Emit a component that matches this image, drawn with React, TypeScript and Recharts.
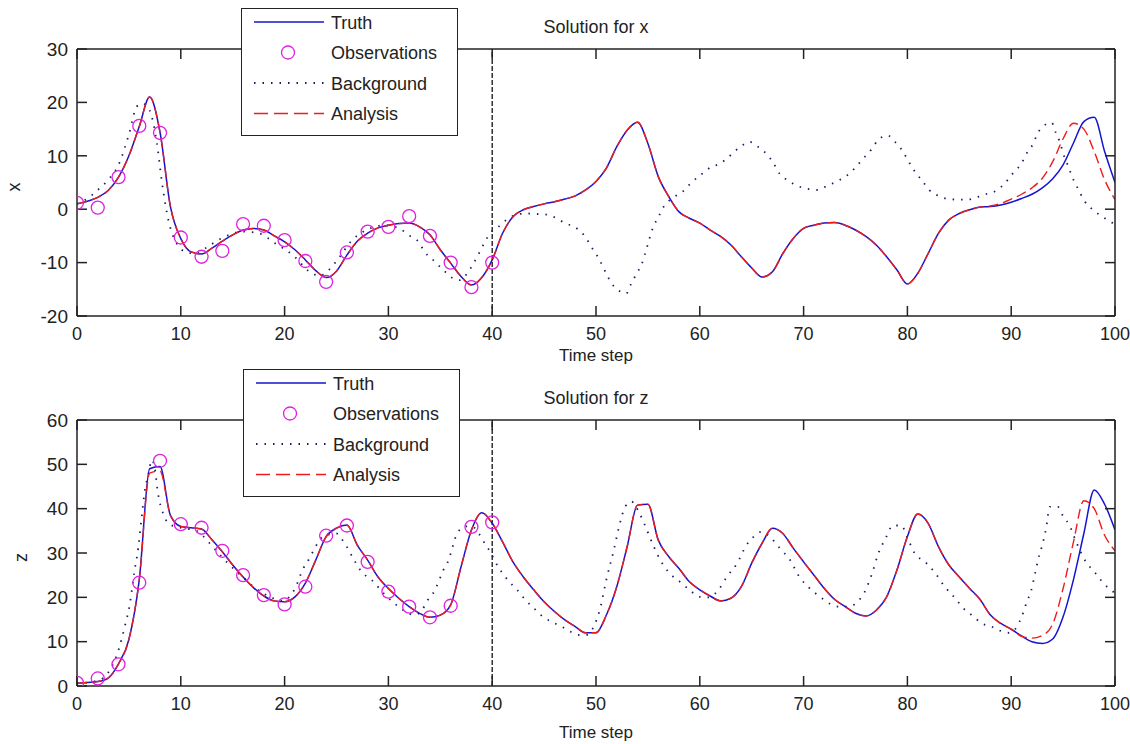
import { LineChart, Line, XAxis, YAxis, ReferenceLine, Legend } from "recharts"

const FONT = '"Liberation Sans", Arial, Helvetica, sans-serif'
const INK = "#222"

// axis ticks
const timeTicks = [0, 10, 20, 30, 40, 50, 60, 70, 80, 90, 100]
const xTicks = [-20, -10, 0, 10, 20, 30]
const zTicks = [0, 10, 20, 30, 40, 50, 60]

// observations every 2nd step, assimilation window ends at 40
const obsTimes = [0, 2, 4, 6, 8, 10, 12, 14, 16, 18, 20, 22, 24, 26, 28, 30, 32, 34, 36, 38, 40]
const obsX = [1.2, 0.3, 6.0, 15.6, 14.3, -5.3, -8.9, -7.8, -2.8, -3.1, -5.8, -9.7, -13.6, -8.1, -4.2, -3.3, -1.3, -5.0, -10.0, -14.6, -10.0]
const obsZ = [0.7, 1.7, 4.9, 23.3, 50.8, 36.5, 35.7, 30.5, 25.0, 20.5, 18.4, 22.4, 33.9, 36.2, 28.0, 21.3, 17.9, 15.5, 18.1, 35.9, 36.9]
const windowEnd = 40

// truth / analysis, one value per time step 0..100
const truthX = [
  1.0, 1.5, 2.2, 3.5, 6.0, 10.0, 15.5, 21.0, 14.4, 0.5,
  -5.5, -8.0, -8.4, -7.3, -6.0, -4.8, -3.9, -3.6, -3.9, -5.0,
  -6.1, -7.6, -9.5, -11.5, -12.8, -11.6, -8.6, -6.0, -4.5, -3.5,
  -3.0, -2.7, -2.6, -3.3, -4.8, -7.6, -10.1, -12.6, -14.2, -12.8,
  -9.5, -4.5, -1.4, -0.1, 0.5, 1.0, 1.4, 1.9, 2.5, 3.6,
  5.2, 7.7, 11.7, 14.8, 16.3, 12.3, 6.1, 2.4, -0.5, -1.7,
  -2.6, -3.9, -5.1, -6.7, -8.9, -11.0, -12.7, -11.7, -8.3, -5.5,
  -3.6, -3.0, -2.6, -2.5, -3.0, -3.9, -5.1, -6.7, -8.9, -11.4,
  -14.0, -12.0, -8.3, -4.5, -2.0, -0.8, -0.1, 0.4, 0.5, 0.8,
  1.3, 2.0, 2.8, 4.0, 5.7, 8.3, 12.4, 16.4, 17.2, 10.8,
  5.0,
]
const analysisX = [
  1.0, 1.5, 2.2, 3.5, 6.0, 10.0, 15.5, 21.0, 14.4, 0.5,
  -5.5, -8.0, -8.4, -7.3, -6.0, -4.8, -3.9, -3.6, -3.9, -5.0,
  -6.1, -7.6, -9.5, -11.5, -12.8, -11.6, -8.6, -6.0, -4.5, -3.5,
  -3.0, -2.7, -2.6, -3.3, -4.8, -7.6, -10.1, -12.6, -14.2, -12.8,
  -9.5, -4.5, -1.4, -0.1, 0.5, 1.0, 1.4, 1.9, 2.5, 3.6,
  5.2, 7.7, 11.7, 14.8, 16.3, 12.3, 6.1, 2.4, -0.5, -1.7,
  -2.6, -3.9, -5.1, -6.7, -8.9, -11.0, -12.7, -11.7, -8.3, -5.5,
  -3.6, -3.0, -2.6, -2.5, -3.0, -3.9, -5.1, -6.7, -8.9, -11.4,
  -14.0, -12.0, -8.3, -4.5, -2.0, -0.8, -0.1, 0.4, 0.6, 1.1,
  1.9, 2.8, 4.0, 5.8, 8.9, 13.2, 16.1, 15.0, 10.8, 5.5,
  1.8,
]
const truthZ = [
  0.6, 0.8, 1.0, 1.8, 5.0, 10.5, 24.0, 49.0, 49.5, 38.5,
  36.0, 35.7, 35.4, 33.0, 30.3, 27.3, 24.6, 22.2, 20.3, 19.2,
  19.0, 20.1, 23.2, 28.4, 33.7, 35.6, 36.3, 31.8, 28.4, 24.6,
  22.0, 19.8, 17.9, 16.4, 15.5, 16.0, 18.3, 26.9, 35.2, 39.1,
  36.7, 32.5, 28.0, 24.6, 21.7, 19.0, 16.8, 14.9, 13.4, 12.0,
  12.0, 16.0, 22.4, 31.4, 40.8, 41.0, 32.9, 29.2, 26.5, 23.5,
  21.7, 20.3, 19.2, 19.8, 22.4, 27.7, 32.2, 35.6, 34.4, 31.1,
  28.0, 25.0, 22.0, 19.5, 17.9, 16.4, 15.8, 17.1, 20.1, 26.2,
  33.7, 38.8, 36.7, 31.4, 27.3, 24.6, 22.0, 19.5, 16.0, 14.1,
  12.8, 11.3, 10.0, 9.6, 10.6, 15.6, 24.0, 34.4, 44.2, 41.0,
  35.2,
]
const analysisZ = [
  0.6, 0.8, 1.0, 1.8, 5.0, 10.5, 24.0, 48.0, 48.5, 38.5,
  36.0, 35.7, 35.4, 33.0, 30.3, 27.3, 24.6, 22.2, 20.3, 19.2,
  19.0, 20.1, 23.2, 28.4, 33.7, 35.6, 36.3, 31.8, 28.4, 24.6,
  22.0, 19.8, 17.9, 16.4, 15.5, 16.0, 18.3, 26.9, 35.2, 39.1,
  36.7, 32.5, 28.0, 24.6, 21.7, 19.0, 16.8, 14.9, 13.4, 12.0,
  12.0, 16.0, 22.4, 31.4, 40.8, 41.0, 32.9, 29.2, 26.5, 23.5,
  21.7, 20.3, 19.2, 19.8, 22.4, 27.7, 32.2, 35.6, 34.4, 31.1,
  28.0, 25.0, 22.0, 19.5, 17.9, 16.4, 15.8, 17.1, 20.1, 26.2,
  33.7, 38.8, 36.7, 31.4, 27.3, 24.6, 22.0, 19.5, 16.0, 14.1,
  12.8, 11.2, 10.8, 11.4, 14.0, 22.0, 32.5, 41.8, 40.0, 34.0,
  30.5,
]

// background (free run), [time, value]
const backgroundX: [number, number][] = [
  [0, 1.0], [1, 2.0], [2, 3.6], [3, 5.5], [4, 8.3], [5, 14.0], [5.75, 19.2], [6.3, 19.8],
  [7, 18.5], [7.7, 12.3], [8.2, 4.8], [8.8, -2.0], [9.6, -6.4], [10.5, -8.0], [11.5, -8.3],
  [12.6, -7.0], [14.3, -5.1], [16, -4.2], [17.5, -4.5], [19.1, -6.4], [20.8, -8.6],
  [22.4, -11.7], [23.4, -12.5], [24.4, -11.1], [25.2, -9.2], [26.5, -5.8], [27.5, -4.3],
  [28.5, -3.4], [29.5, -3.0], [30.4, -3.2], [31.1, -3.6], [31.9, -4.8], [32.9, -6.1],
  [33.5, -8.0], [34.3, -9.5], [35.3, -11.4], [36.1, -12.8], [36.9, -13.3], [37.7, -11.7],
  [38.3, -9.8], [38.8, -8.0], [39.3, -6.1], [39.8, -4.5], [40.6, -3.3], [41.5, -1.8],
  [42.4, -1.0], [43.3, -0.8], [44.3, -0.9], [45.2, -1.0], [46.2, -1.7], [47.0, -2.6],
  [48.0, -3.4], [48.9, -5.0], [49.6, -7.2], [50.2, -9.0], [51.0, -12.1], [51.5, -13.9],
  [52.1, -15.1], [52.9, -15.8], [53.4, -13.9], [53.9, -12.1], [54.4, -10.3], [54.9, -7.2],
  [55.5, -3.4], [56.0, -1.5], [56.5, 0.4], [57.3, 2.0], [58.3, 3.2], [59.2, 5.0], [60.2, 6.6],
  [61.0, 7.8], [62.0, 8.6], [62.9, 10.0], [63.9, 11.7], [64.8, 12.6], [65.6, 11.7],
  [66.4, 10.4], [67.1, 8.6], [67.7, 6.6], [68.5, 5.4], [69.5, 4.3], [70.4, 3.8], [71.3, 3.6],
  [72.2, 4.3], [73.2, 5.2], [74.1, 6.2], [74.9, 7.6], [75.7, 9.4], [76.5, 11.1], [77.2, 13.0],
  [78.1, 13.8], [78.9, 12.4], [79.6, 10.7], [80.1, 9.0], [80.7, 7.1], [81.4, 5.4], [82.1, 3.6],
  [83.0, 2.5], [84.0, 1.9], [84.8, 1.8], [85.8, 1.8], [86.8, 2.3], [87.7, 2.9], [88.6, 3.5],
  [89.5, 5.1], [90.2, 6.8], [91.0, 8.6], [91.5, 10.5], [92.1, 12.2], [92.5, 14.0], [93.0, 15.4],
  [93.9, 16.2], [94.3, 14.3], [94.7, 12.5], [95.0, 10.5], [95.5, 8.0], [96.0, 5.5], [96.5, 3.6],
  [97.0, 1.7], [97.8, 0.0], [98.8, -1.4], [99.7, -2.5], [100, -2.7],
]
const backgroundZ: [number, number][] = [
  [0, 0.6], [2, 1.2], [3, 3.0], [4, 8.1], [4.6, 13.4], [5.1, 18.6], [5.5, 25.4], [5.9, 31.1],
  [6.2, 37.4], [6.5, 43.5], [6.9, 48.0], [7.2, 51.0], [7.5, 49.0], [7.8, 43.5], [8.3, 38.9],
  [8.8, 36.7], [9.4, 36.0], [10.5, 35.5], [11.5, 35.0], [12.2, 33.7], [13.0, 31.6],
  [14.7, 27.3], [16, 24.5], [17.0, 22.4], [18.9, 19.8], [19.8, 19.2], [20.5, 20.2], [21.0, 22.0],
  [21.8, 26.5], [22.4, 28.8], [22.9, 31.1], [23.7, 33.7], [25.0, 34.4], [25.7, 32.5],
  [26.8, 28.0], [27.4, 25.8], [28.4, 23.9], [29.5, 21.0], [30.5, 18.8], [31.5, 17.0],
  [32.5, 16.0], [33.2, 17.0], [33.8, 19.4], [34.5, 21.7], [34.9, 23.9], [35.3, 26.2],
  [35.8, 28.4], [36.3, 32.3], [36.6, 34.4], [37.5, 36.0], [38.2, 35.8], [38.7, 34.4],
  [39.2, 32.5], [39.8, 30.3], [40.3, 28.0], [41.5, 23.9], [42.4, 21.7], [43.2, 19.4],
  [44.0, 17.6], [44.9, 15.6], [45.7, 14.5], [46.7, 13.4], [47.5, 12.3], [48.4, 11.5],
  [49.0, 11.5], [49.8, 13.5], [50.4, 17.5], [51.0, 24.0], [51.7, 30.5], [52.3, 36.7],
  [52.8, 40.4], [53.4, 41.6], [54.2, 38.9], [54.9, 35.2], [55.5, 31.8], [56.2, 28.4],
  [57.1, 25.4], [58.1, 23.5], [59.0, 21.7], [60.0, 20.1], [60.9, 20.0], [61.8, 21.7],
  [62.6, 24.6], [63.6, 27.7], [64.5, 31.8], [65.2, 33.7], [65.95, 34.8], [66.9, 33.3],
  [67.7, 31.1], [68.7, 28.4], [69.6, 24.6], [70.6, 22.0], [71.6, 20.1], [72.5, 18.6],
  [73.5, 17.9], [74.3, 17.9], [75.2, 19.0], [75.9, 21.3], [76.6, 25.4], [77.2, 29.9],
  [77.9, 33.3], [78.6, 36.2], [79.4, 36.2], [80.1, 32.9], [80.7, 29.9], [81.7, 28.0],
  [82.7, 25.4], [83.6, 22.4], [84.6, 19.8], [85.4, 17.5], [86.2, 16.0], [87.2, 14.1],
  [88.1, 13.4], [88.9, 12.5], [89.8, 12.0], [90.3, 12.6], [90.8, 14.5], [91.2, 16.8],
  [91.5, 19.0], [91.9, 21.3], [92.3, 25.4], [92.7, 29.5], [93.0, 31.8], [93.4, 36.1],
  [93.7, 40.4], [94.5, 40.4], [95.0, 38.3], [95.6, 36.3], [96.3, 32.3], [97.2, 28.0],
  [98.0, 25.8], [98.7, 23.7], [99.4, 22.0], [100, 21.0],
]

const COLORS = {
  truth: "#1414d2",
  obs: "#e020e0",
  background: "#1c1c64",
  analysis: "#ee1c1c",
}

const legendItems = [
  { name: "Truth", kind: "solid", color: COLORS.truth },
  { name: "Observations", kind: "circle", color: COLORS.obs },
  { name: "Background", kind: "dotted", color: COLORS.background },
  { name: "Analysis", kind: "dashed", color: COLORS.analysis },
]

const bySteps = (vals: number[]) => vals.map((v, i) => ({ t: i, v }))
const byPairs = (pairs: [number, number][]) => pairs.map(([t, v]) => ({ t, v }))
const byTimes = (times: number[], vals: number[]) => times.map((t, i) => ({ t, v: vals[i] }))

// MATLAB-ish boxed legend
const LegendBox = () => (
  <div style={{ width: 215, height: 126, border: `1.5px solid ${INK}`, background: "#fff" }}>
    <svg width={215} height={126} style={{ display: "block" }}>
      {legendItems.map((item, i) => {
        const cy = 13 + i * 30.5
        return (
          <g key={item.name}>
            {item.kind === "circle" ? (
              <circle cx={46} cy={cy} r={6.5} fill="none" stroke={item.color} strokeWidth={1.3} />
            ) : (
              <line
                x1={12}
                x2={82}
                y1={cy}
                y2={cy}
                stroke={item.color}
                strokeWidth={item.kind === "dotted" ? 1.8 : 1.5}
                strokeDasharray={item.kind === "dotted" ? "1.5 7" : item.kind === "dashed" ? "14 6" : undefined}
              />
            )}
            <text x={89} y={cy + 6.5} fontSize={18} fill={INK} fontFamily={FONT}>
              {item.name}
            </text>
          </g>
        )
      })}
    </svg>
  </div>
)

interface PanelProps {
  height: number
  marginTop: number
  xAxisHeight: number
  title: string
  yLabel: string
  yLabelOffset: number
  domain: [number, number]
  yTicks: number[]
  truth: number[]
  analysis: number[]
  background: [number, number][]
  obs: number[]
  legendLeft: number
  legendTop: number
  timeLabelOffset: number
}

const axisStyle = { stroke: INK, strokeWidth: 1.5 }

function Panel(p: PanelProps) {
  return (
    <LineChart width={1130} height={p.height} margin={{ top: p.marginTop, right: 14, left: 76, bottom: 0 }}>
      <XAxis
        xAxisId="bottom"
        dataKey="t"
        type="number"
        domain={[0, 100]}
        ticks={timeTicks}
        interval={0}
        allowDataOverflow
        height={p.xAxisHeight}
        tickSize={-10}
        tickMargin={21}
        axisLine={axisStyle}
        tickLine={axisStyle}
        tick={{ fill: INK, fontSize: 18 }}
        label={{ value: "Time step", position: "insideBottom", offset: p.timeLabelOffset, fill: INK, fontSize: 17 }}
      />
      <XAxis
        xAxisId="top"
        orientation="top"
        dataKey="t"
        type="number"
        domain={[0, 100]}
        ticks={timeTicks}
        interval={0}
        allowDataOverflow
        height={1}
        tickSize={-10}
        axisLine={axisStyle}
        tickLine={axisStyle}
        tickFormatter={() => ""}
        label={{ value: p.title, position: "top", offset: 15, fill: INK, fontSize: 18 }}
      />
      <YAxis
        yAxisId="left"
        type="number"
        domain={p.domain}
        ticks={p.yTicks}
        interval={0}
        allowDataOverflow
        width={1}
        tickSize={-10}
        tickMargin={19}
        axisLine={axisStyle}
        tickLine={axisStyle}
        tick={{ fill: INK, fontSize: 19 }}
        label={{ value: p.yLabel, angle: -90, position: "left", offset: p.yLabelOffset, fill: INK, fontSize: 18 }}
      />
      <YAxis
        yAxisId="right"
        orientation="right"
        type="number"
        domain={p.domain}
        ticks={p.yTicks}
        interval={0}
        allowDataOverflow
        width={1}
        tickSize={-10}
        axisLine={axisStyle}
        tickLine={axisStyle}
        tickFormatter={() => ""}
      />
      <ReferenceLine
        xAxisId="bottom"
        yAxisId="left"
        x={windowEnd}
        stroke="#111"
        strokeWidth={1.3}
        strokeDasharray="5 2"
      />
      <Line
        xAxisId="bottom"
        yAxisId="left"
        data={bySteps(p.truth)}
        dataKey="v"
        type="monotone"
        stroke={COLORS.truth}
        strokeWidth={1.5}
        dot={false}
        isAnimationActive={false}
      />
      <Line
        xAxisId="bottom"
        yAxisId="left"
        data={byTimes(obsTimes, p.obs)}
        dataKey="v"
        stroke="none"
        dot={{ r: 6.5, stroke: COLORS.obs, strokeWidth: 1.3, fill: "none" }}
        isAnimationActive={false}
      />
      <Line
        xAxisId="bottom"
        yAxisId="left"
        data={byPairs(p.background)}
        dataKey="v"
        type="monotone"
        stroke={COLORS.background}
        strokeWidth={1.8}
        strokeDasharray="1.5 7"
        dot={false}
        isAnimationActive={false}
      />
      <Line
        xAxisId="bottom"
        yAxisId="left"
        data={bySteps(p.analysis)}
        dataKey="v"
        type="monotone"
        stroke={COLORS.analysis}
        strokeWidth={1.4}
        strokeDasharray="10 5"
        dot={false}
        isAnimationActive={false}
      />
      <Legend
        layout="vertical"
        align="center"
        verticalAlign="middle"
        content={() => <LegendBox />}
        wrapperStyle={{ left: p.legendLeft, top: p.legendTop, width: "auto" }}
      />
    </LineChart>
  )
}

export default function App() {
  return (
    <div
      style={{
        position: "absolute",
        left: 0,
        top: 0,
        width: 1130,
        height: 744,
        background: "#fff",
        fontFamily: FONT,
      }}
    >
      <Panel
        height={365}
        marginTop={48}
        xAxisHeight={49}
        title="Solution for x"
        yLabel="x"
        yLabelOffset={62}
        domain={[-20, 30]}
        yTicks={xTicks}
        truth={truthX}
        analysis={analysisX}
        background={backgroundX}
        obs={obsX}
        legendLeft={241}
        legendTop={8}
        timeLabelOffset={4}
      />
      <Panel
        height={379}
        marginTop={54}
        xAxisHeight={58}
        title="Solution for z"
        yLabel="z"
        yLabelOffset={55}
        domain={[0, 60]}
        yTicks={zTicks}
        truth={truthZ}
        analysis={analysisZ}
        background={backgroundZ}
        obs={obsZ}
        legendLeft={243}
        legendTop={4}
        timeLabelOffset={6}
      />
    </div>
  )
}
